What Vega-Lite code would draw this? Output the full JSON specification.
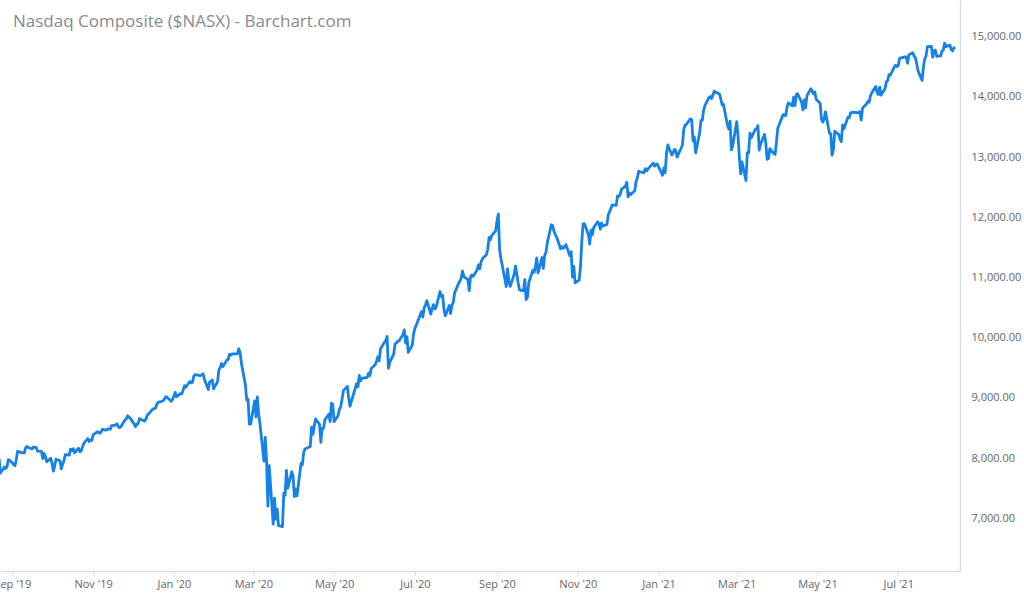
{
  "$schema": "https://vega.github.io/schema/vega-lite/v6.json",
  "width": 960,
  "height": 571,
  "autosize": {"type": "none"},
  "padding": {"left": 0, "top": 0, "right": 64, "bottom": 24},
  "background": "white",
  "config": {"view": {"stroke": null}, "font": "Open Sans"},
  "title": {
    "text": "Nasdaq Composite ($NASX) - Barchart.com",
    "anchor": "start",
    "frame": "group",
    "orient": "top",
    "offset": 0,
    "dx": 13,
    "dy": 44,
    "baseline": "alphabetic",
    "fontSize": 17,
    "fontWeight": "normal",
    "color": "#8a8a8a",
    "font": "Open Sans"
  },
  "data": {
    "values": [
      {"date":"2019-08-22","close":7991},{"date":"2019-08-23","close":7751},{"date":"2019-08-26","close":7853},{"date":"2019-08-27","close":7827},{"date":"2019-08-28","close":7856},{"date":"2019-08-29","close":7974},{"date":"2019-08-30","close":7963},
      {"date":"2019-09-03","close":7874},{"date":"2019-09-04","close":7977},{"date":"2019-09-05","close":8117},{"date":"2019-09-06","close":8103},{"date":"2019-09-09","close":8087},{"date":"2019-09-10","close":8084},{"date":"2019-09-11","close":8170},{"date":"2019-09-12","close":8195},{"date":"2019-09-13","close":8177},{"date":"2019-09-16","close":8153},{"date":"2019-09-17","close":8186},{"date":"2019-09-18","close":8177},{"date":"2019-09-19","close":8182},{"date":"2019-09-20","close":8118},{"date":"2019-09-23","close":8112},{"date":"2019-09-24","close":7993},{"date":"2019-09-25","close":8077},{"date":"2019-09-26","close":8031},{"date":"2019-09-27","close":7940},{"date":"2019-09-30","close":7999},
      {"date":"2019-10-01","close":7909},{"date":"2019-10-02","close":7785},{"date":"2019-10-03","close":7872},{"date":"2019-10-04","close":7982},{"date":"2019-10-07","close":7956},{"date":"2019-10-08","close":7823},{"date":"2019-10-09","close":7903},{"date":"2019-10-10","close":7951},{"date":"2019-10-11","close":8057},{"date":"2019-10-14","close":8049},{"date":"2019-10-15","close":8149},{"date":"2019-10-16","close":8125},{"date":"2019-10-17","close":8157},{"date":"2019-10-18","close":8090},{"date":"2019-10-21","close":8163},{"date":"2019-10-22","close":8104},{"date":"2019-10-23","close":8120},{"date":"2019-10-24","close":8186},{"date":"2019-10-25","close":8243},{"date":"2019-10-28","close":8326},{"date":"2019-10-29","close":8277},{"date":"2019-10-30","close":8304},{"date":"2019-10-31","close":8292},
      {"date":"2019-11-01","close":8386},{"date":"2019-11-04","close":8434},{"date":"2019-11-05","close":8435},{"date":"2019-11-06","close":8411},{"date":"2019-11-07","close":8434},{"date":"2019-11-08","close":8476},{"date":"2019-11-11","close":8464},{"date":"2019-11-12","close":8486},{"date":"2019-11-13","close":8482},{"date":"2019-11-14","close":8480},{"date":"2019-11-15","close":8541},{"date":"2019-11-18","close":8550},{"date":"2019-11-19","close":8571},{"date":"2019-11-20","close":8527},{"date":"2019-11-21","close":8506},{"date":"2019-11-22","close":8520},{"date":"2019-11-25","close":8632},{"date":"2019-11-26","close":8648},{"date":"2019-11-27","close":8705},{"date":"2019-11-29","close":8665},
      {"date":"2019-12-02","close":8568},{"date":"2019-12-03","close":8521},{"date":"2019-12-04","close":8567},{"date":"2019-12-05","close":8571},{"date":"2019-12-06","close":8657},{"date":"2019-12-09","close":8622},{"date":"2019-12-10","close":8616},{"date":"2019-12-11","close":8654},{"date":"2019-12-12","close":8717},{"date":"2019-12-13","close":8735},{"date":"2019-12-16","close":8814},{"date":"2019-12-17","close":8823},{"date":"2019-12-18","close":8827},{"date":"2019-12-19","close":8887},{"date":"2019-12-20","close":8925},{"date":"2019-12-23","close":8945},{"date":"2019-12-24","close":8953},{"date":"2019-12-26","close":9022},{"date":"2019-12-27","close":9007},{"date":"2019-12-30","close":8945},{"date":"2019-12-31","close":8973},
      {"date":"2020-01-02","close":9092},{"date":"2020-01-03","close":9020},{"date":"2020-01-06","close":9071},{"date":"2020-01-07","close":9068},{"date":"2020-01-08","close":9129},{"date":"2020-01-09","close":9203},{"date":"2020-01-10","close":9178},{"date":"2020-01-13","close":9274},{"date":"2020-01-14","close":9251},{"date":"2020-01-15","close":9258},{"date":"2020-01-16","close":9357},{"date":"2020-01-17","close":9388},{"date":"2020-01-21","close":9370},{"date":"2020-01-22","close":9383},{"date":"2020-01-23","close":9402},{"date":"2020-01-24","close":9315},{"date":"2020-01-27","close":9139},{"date":"2020-01-28","close":9269},{"date":"2020-01-29","close":9275},{"date":"2020-01-30","close":9298},{"date":"2020-01-31","close":9150},
      {"date":"2020-02-03","close":9273},{"date":"2020-02-04","close":9467},{"date":"2020-02-05","close":9508},{"date":"2020-02-06","close":9572},{"date":"2020-02-07","close":9520},{"date":"2020-02-10","close":9628},{"date":"2020-02-11","close":9638},{"date":"2020-02-12","close":9725},{"date":"2020-02-13","close":9711},{"date":"2020-02-14","close":9731},{"date":"2020-02-18","close":9732},{"date":"2020-02-19","close":9817},{"date":"2020-02-20","close":9751},{"date":"2020-02-21","close":9577},{"date":"2020-02-24","close":9221},{"date":"2020-02-25","close":8966},{"date":"2020-02-26","close":8980},{"date":"2020-02-27","close":8566},{"date":"2020-02-28","close":8567},
      {"date":"2020-03-02","close":8952},{"date":"2020-03-03","close":8684},{"date":"2020-03-04","close":9019},{"date":"2020-03-05","close":8738},{"date":"2020-03-06","close":8576},{"date":"2020-03-09","close":7950},{"date":"2020-03-10","close":8344},{"date":"2020-03-11","close":7952},{"date":"2020-03-12","close":7201},{"date":"2020-03-13","close":7875},{"date":"2020-03-16","close":6904},{"date":"2020-03-17","close":7335},{"date":"2020-03-18","close":6989},{"date":"2020-03-19","close":7151},{"date":"2020-03-20","close":6880},{"date":"2020-03-23","close":6861},{"date":"2020-03-24","close":7418},{"date":"2020-03-25","close":7384},{"date":"2020-03-26","close":7798},{"date":"2020-03-27","close":7502},{"date":"2020-03-30","close":7774},{"date":"2020-03-31","close":7700},
      {"date":"2020-04-01","close":7360},{"date":"2020-04-02","close":7487},{"date":"2020-04-03","close":7373},{"date":"2020-04-06","close":7913},{"date":"2020-04-07","close":7887},{"date":"2020-04-08","close":8091},{"date":"2020-04-09","close":8153},{"date":"2020-04-13","close":8192},{"date":"2020-04-14","close":8516},{"date":"2020-04-15","close":8394},{"date":"2020-04-16","close":8533},{"date":"2020-04-17","close":8650},{"date":"2020-04-20","close":8561},{"date":"2020-04-21","close":8263},{"date":"2020-04-22","close":8495},{"date":"2020-04-23","close":8494},{"date":"2020-04-24","close":8634},{"date":"2020-04-27","close":8730},{"date":"2020-04-28","close":8608},{"date":"2020-04-29","close":8914},{"date":"2020-04-30","close":8890},
      {"date":"2020-05-01","close":8605},{"date":"2020-05-04","close":8710},{"date":"2020-05-05","close":8810},{"date":"2020-05-06","close":8854},{"date":"2020-05-07","close":8980},{"date":"2020-05-08","close":9121},{"date":"2020-05-11","close":9192},{"date":"2020-05-12","close":9002},{"date":"2020-05-13","close":8863},{"date":"2020-05-14","close":8943},{"date":"2020-05-15","close":9015},{"date":"2020-05-18","close":9235},{"date":"2020-05-19","close":9185},{"date":"2020-05-20","close":9375},{"date":"2020-05-21","close":9285},{"date":"2020-05-22","close":9325},{"date":"2020-05-26","close":9340},{"date":"2020-05-27","close":9412},{"date":"2020-05-28","close":9369},{"date":"2020-05-29","close":9490},
      {"date":"2020-06-01","close":9552},{"date":"2020-06-02","close":9609},{"date":"2020-06-03","close":9683},{"date":"2020-06-04","close":9616},{"date":"2020-06-05","close":9814},{"date":"2020-06-08","close":9924},{"date":"2020-06-09","close":9953},{"date":"2020-06-10","close":10020},{"date":"2020-06-11","close":9493},{"date":"2020-06-12","close":9589},{"date":"2020-06-15","close":9726},{"date":"2020-06-16","close":9896},{"date":"2020-06-17","close":9910},{"date":"2020-06-18","close":9943},{"date":"2020-06-19","close":9946},{"date":"2020-06-22","close":10056},{"date":"2020-06-23","close":10131},{"date":"2020-06-24","close":9909},{"date":"2020-06-25","close":10017},{"date":"2020-06-26","close":9757},{"date":"2020-06-29","close":9874},{"date":"2020-06-30","close":10059},
      {"date":"2020-07-01","close":10155},{"date":"2020-07-02","close":10208},{"date":"2020-07-06","close":10434},{"date":"2020-07-07","close":10344},{"date":"2020-07-08","close":10493},{"date":"2020-07-09","close":10548},{"date":"2020-07-10","close":10617},{"date":"2020-07-13","close":10391},{"date":"2020-07-14","close":10489},{"date":"2020-07-15","close":10550},{"date":"2020-07-16","close":10474},{"date":"2020-07-17","close":10503},{"date":"2020-07-20","close":10768},{"date":"2020-07-21","close":10681},{"date":"2020-07-22","close":10706},{"date":"2020-07-23","close":10462},{"date":"2020-07-24","close":10363},{"date":"2020-07-27","close":10536},{"date":"2020-07-28","close":10403},{"date":"2020-07-29","close":10543},{"date":"2020-07-30","close":10587},{"date":"2020-07-31","close":10745},
      {"date":"2020-08-03","close":10903},{"date":"2020-08-04","close":10941},{"date":"2020-08-05","close":10998},{"date":"2020-08-06","close":11108},{"date":"2020-08-07","close":11011},{"date":"2020-08-10","close":10968},{"date":"2020-08-11","close":10782},{"date":"2020-08-12","close":11013},{"date":"2020-08-13","close":11042},{"date":"2020-08-14","close":11019},{"date":"2020-08-17","close":11129},{"date":"2020-08-18","close":11210},{"date":"2020-08-19","close":11146},{"date":"2020-08-20","close":11265},{"date":"2020-08-21","close":11312},{"date":"2020-08-24","close":11379},{"date":"2020-08-25","close":11466},{"date":"2020-08-26","close":11665},{"date":"2020-08-27","close":11625},{"date":"2020-08-28","close":11696},{"date":"2020-08-31","close":11775},
      {"date":"2020-09-01","close":11939},{"date":"2020-09-02","close":12056},{"date":"2020-09-03","close":11458},{"date":"2020-09-04","close":11313},{"date":"2020-09-08","close":10848},{"date":"2020-09-09","close":11142},{"date":"2020-09-10","close":10920},{"date":"2020-09-11","close":10854},{"date":"2020-09-14","close":11057},{"date":"2020-09-15","close":11190},{"date":"2020-09-16","close":11050},{"date":"2020-09-17","close":10910},{"date":"2020-09-18","close":10794},{"date":"2020-09-21","close":10778},{"date":"2020-09-22","close":10964},{"date":"2020-09-23","close":10633},{"date":"2020-09-24","close":10672},{"date":"2020-09-25","close":10914},{"date":"2020-09-28","close":11118},{"date":"2020-09-29","close":11086},{"date":"2020-09-30","close":11168},
      {"date":"2020-10-01","close":11327},{"date":"2020-10-02","close":11076},{"date":"2020-10-05","close":11332},{"date":"2020-10-06","close":11154},{"date":"2020-10-07","close":11365},{"date":"2020-10-08","close":11421},{"date":"2020-10-09","close":11580},{"date":"2020-10-12","close":11876},{"date":"2020-10-13","close":11864},{"date":"2020-10-14","close":11768},{"date":"2020-10-15","close":11714},{"date":"2020-10-16","close":11672},{"date":"2020-10-19","close":11479},{"date":"2020-10-20","close":11517},{"date":"2020-10-21","close":11485},{"date":"2020-10-22","close":11506},{"date":"2020-10-23","close":11548},{"date":"2020-10-26","close":11359},{"date":"2020-10-27","close":11431},{"date":"2020-10-28","close":11005},{"date":"2020-10-29","close":11186},{"date":"2020-10-30","close":10912},
      {"date":"2020-11-02","close":10958},{"date":"2020-11-03","close":11161},{"date":"2020-11-04","close":11590},{"date":"2020-11-05","close":11891},{"date":"2020-11-06","close":11895},{"date":"2020-11-09","close":11713},{"date":"2020-11-10","close":11554},{"date":"2020-11-11","close":11786},{"date":"2020-11-12","close":11710},{"date":"2020-11-13","close":11830},{"date":"2020-11-16","close":11925},{"date":"2020-11-17","close":11900},{"date":"2020-11-18","close":11802},{"date":"2020-11-19","close":11905},{"date":"2020-11-20","close":11855},{"date":"2020-11-23","close":11881},{"date":"2020-11-24","close":12037},{"date":"2020-11-25","close":12094},{"date":"2020-11-27","close":12206},{"date":"2020-11-30","close":12199},
      {"date":"2020-12-01","close":12355},{"date":"2020-12-02","close":12349},{"date":"2020-12-03","close":12377},{"date":"2020-12-04","close":12464},{"date":"2020-12-07","close":12519},{"date":"2020-12-08","close":12583},{"date":"2020-12-09","close":12339},{"date":"2020-12-10","close":12406},{"date":"2020-12-11","close":12378},{"date":"2020-12-14","close":12440},{"date":"2020-12-15","close":12595},{"date":"2020-12-16","close":12658},{"date":"2020-12-17","close":12765},{"date":"2020-12-18","close":12756},{"date":"2020-12-21","close":12743},{"date":"2020-12-22","close":12808},{"date":"2020-12-23","close":12772},{"date":"2020-12-24","close":12805},{"date":"2020-12-28","close":12900},{"date":"2020-12-29","close":12850},{"date":"2020-12-30","close":12870},{"date":"2020-12-31","close":12888},
      {"date":"2021-01-04","close":12698},{"date":"2021-01-05","close":12819},{"date":"2021-01-06","close":12741},{"date":"2021-01-07","close":13067},{"date":"2021-01-08","close":13202},{"date":"2021-01-11","close":13036},{"date":"2021-01-12","close":13072},{"date":"2021-01-13","close":13129},{"date":"2021-01-14","close":13112},{"date":"2021-01-15","close":12999},{"date":"2021-01-19","close":13197},{"date":"2021-01-20","close":13457},{"date":"2021-01-21","close":13530},{"date":"2021-01-22","close":13543},{"date":"2021-01-25","close":13635},{"date":"2021-01-26","close":13626},{"date":"2021-01-27","close":13271},{"date":"2021-01-28","close":13337},{"date":"2021-01-29","close":13070},
      {"date":"2021-02-01","close":13403},{"date":"2021-02-02","close":13612},{"date":"2021-02-03","close":13610},{"date":"2021-02-04","close":13778},{"date":"2021-02-05","close":13856},{"date":"2021-02-08","close":13988},{"date":"2021-02-09","close":14007},{"date":"2021-02-10","close":13973},{"date":"2021-02-11","close":14026},{"date":"2021-02-12","close":14095},{"date":"2021-02-16","close":14047},{"date":"2021-02-17","close":13966},{"date":"2021-02-18","close":13865},{"date":"2021-02-19","close":13874},{"date":"2021-02-22","close":13533},{"date":"2021-02-23","close":13465},{"date":"2021-02-24","close":13598},{"date":"2021-02-25","close":13119},{"date":"2021-02-26","close":13192},
      {"date":"2021-03-01","close":13589},{"date":"2021-03-02","close":13359},{"date":"2021-03-03","close":12998},{"date":"2021-03-04","close":12723},{"date":"2021-03-05","close":12920},{"date":"2021-03-08","close":12609},{"date":"2021-03-09","close":13073},{"date":"2021-03-10","close":13068},{"date":"2021-03-11","close":13399},{"date":"2021-03-12","close":13320},{"date":"2021-03-15","close":13460},{"date":"2021-03-16","close":13472},{"date":"2021-03-17","close":13525},{"date":"2021-03-18","close":13116},{"date":"2021-03-19","close":13215},{"date":"2021-03-22","close":13378},{"date":"2021-03-23","close":13228},{"date":"2021-03-24","close":12962},{"date":"2021-03-25","close":12978},{"date":"2021-03-26","close":13139},{"date":"2021-03-29","close":13059},{"date":"2021-03-30","close":13045},{"date":"2021-03-31","close":13247},
      {"date":"2021-04-01","close":13480},{"date":"2021-04-05","close":13705},{"date":"2021-04-06","close":13698},{"date":"2021-04-07","close":13688},{"date":"2021-04-08","close":13829},{"date":"2021-04-09","close":13900},{"date":"2021-04-12","close":13850},{"date":"2021-04-13","close":13997},{"date":"2021-04-14","close":13857},{"date":"2021-04-15","close":14039},{"date":"2021-04-16","close":14052},{"date":"2021-04-19","close":13915},{"date":"2021-04-20","close":13787},{"date":"2021-04-21","close":13951},{"date":"2021-04-22","close":13819},{"date":"2021-04-23","close":14017},{"date":"2021-04-26","close":14138},{"date":"2021-04-27","close":14090},{"date":"2021-04-28","close":14051},{"date":"2021-04-29","close":14082},{"date":"2021-04-30","close":13962},
      {"date":"2021-05-03","close":13895},{"date":"2021-05-04","close":13634},{"date":"2021-05-05","close":13582},{"date":"2021-05-06","close":13633},{"date":"2021-05-07","close":13752},{"date":"2021-05-10","close":13402},{"date":"2021-05-11","close":13389},{"date":"2021-05-12","close":13032},{"date":"2021-05-13","close":13125},{"date":"2021-05-14","close":13430},{"date":"2021-05-17","close":13379},{"date":"2021-05-18","close":13303},{"date":"2021-05-19","close":13257},{"date":"2021-05-20","close":13535},{"date":"2021-05-21","close":13471},{"date":"2021-05-24","close":13662},{"date":"2021-05-25","close":13657},{"date":"2021-05-26","close":13738},{"date":"2021-05-27","close":13736},{"date":"2021-05-28","close":13749},
      {"date":"2021-06-01","close":13736},{"date":"2021-06-02","close":13756},{"date":"2021-06-03","close":13615},{"date":"2021-06-04","close":13814},{"date":"2021-06-07","close":13882},{"date":"2021-06-08","close":13925},{"date":"2021-06-09","close":13911},{"date":"2021-06-10","close":14020},{"date":"2021-06-11","close":14069},{"date":"2021-06-14","close":14175},{"date":"2021-06-15","close":14073},{"date":"2021-06-16","close":14040},{"date":"2021-06-17","close":14161},{"date":"2021-06-18","close":14030},{"date":"2021-06-21","close":14141},{"date":"2021-06-22","close":14253},{"date":"2021-06-23","close":14272},{"date":"2021-06-24","close":14370},{"date":"2021-06-25","close":14360},{"date":"2021-06-28","close":14500},{"date":"2021-06-29","close":14528},{"date":"2021-06-30","close":14504},
      {"date":"2021-07-01","close":14523},{"date":"2021-07-02","close":14639},{"date":"2021-07-06","close":14664},{"date":"2021-07-07","close":14665},{"date":"2021-07-08","close":14559},{"date":"2021-07-09","close":14701},{"date":"2021-07-12","close":14733},{"date":"2021-07-13","close":14678},{"date":"2021-07-14","close":14645},{"date":"2021-07-15","close":14544},{"date":"2021-07-16","close":14428},{"date":"2021-07-19","close":14275},{"date":"2021-07-20","close":14499},{"date":"2021-07-21","close":14632},{"date":"2021-07-22","close":14684},{"date":"2021-07-23","close":14837},{"date":"2021-07-26","close":14840},{"date":"2021-07-27","close":14660},{"date":"2021-07-28","close":14763},{"date":"2021-07-29","close":14779},{"date":"2021-07-30","close":14673},
      {"date":"2021-08-02","close":14681},{"date":"2021-08-03","close":14761},{"date":"2021-08-04","close":14781},{"date":"2021-08-05","close":14895},{"date":"2021-08-06","close":14836},{"date":"2021-08-09","close":14860},{"date":"2021-08-10","close":14788},{"date":"2021-08-11","close":14765},{"date":"2021-08-12","close":14816},{"date":"2021-08-13","close":14823}
    ]
  },
  "mark": {"type": "line", "color": "#1682e6", "strokeWidth": 2.8, "strokeJoin": "round", "clip": true},
  "encoding": {
    "x": {
      "field": "date",
      "type": "temporal",
      "scale": {
        "type": "utc",
        "domain": [
          {"year": 2019, "month": 8, "date": 22, "hours": 17, "utc": true},
          {"year": 2021, "month": 8, "date": 16, "hours": 14, "minutes": 40, "utc": true}
        ]
      },
      "axis": {
        "title": null,
        "grid": false,
        "format": "%b '%y",
        "tickCount": {"interval": "month", "step": 2},
        "domainColor": "#dddddd",
        "domainWidth": 1.5,
        "tickColor": "#dddddd",
        "tickSize": 4,
        "labelColor": "#666666",
        "labelFontSize": 11,
        "labelFont": "Open Sans",
        "labelPadding": 3,
        "labelFlush": false,
        "labelOverlap": false,
        "labelBound": false
      }
    },
    "y": {
      "field": "close",
      "type": "quantitative",
      "scale": {"domain": [6125, 15610], "nice": false, "zero": false},
      "axis": {
        "orient": "right",
        "title": null,
        "grid": false,
        "values": [7000, 8000, 9000, 10000, 11000, 12000, 13000, 14000, 15000],
        "format": ",.2f",
        "ticks": false,
        "domainColor": "#dddddd",
        "domainWidth": 1.5,
        "labelColor": "#666666",
        "labelFontSize": 11,
        "labelFont": "Open Sans",
        "labelPadding": 11,
        "labelAlign": "left"
      }
    }
  }
}
